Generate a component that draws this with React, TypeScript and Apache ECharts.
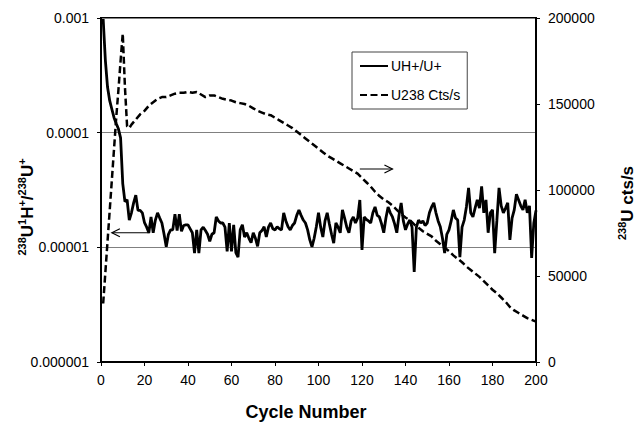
import React, { useEffect, useRef } from "react";
import * as echarts from "echarts";

// UH+/U+ ratio per cycle (cycles 1..200)
const uhRatio: number[] = [
  9.8e-4, 4.3e-4, 2.5e-4, 1.9e-4, 1.6e-4, 1.35e-4, 1.2e-4, 1.08e-4, 9.0e-5, 3.6e-5,
  2.5e-5, 2.6e-5, 1.73e-5, 2.0e-5, 2.44e-5, 2.85e-5, 2.1e-5, 2.1e-5, 2.0e-5, 1.64e-5,
  1.5e-5, 1.34e-5, 1.84e-5, 1.34e-5, 1.73e-5, 2.0e-5, 1.8e-5, 1.63e-5, 1.3e-5, 1.01e-5,
  1.3e-5, 1.42e-5, 1.42e-5, 1.95e-5, 1.4e-5, 1.95e-5, 1.38e-5, 1.55e-5, 1.57e-5, 1.57e-5,
  1.45e-5, 1.34e-5, 8.9e-6, 1.42e-5, 8.9e-6, 1.42e-5, 1.5e-5, 1.4e-5, 1.3e-5, 1.13e-5,
  1.3e-5, 1.34e-5, 1.84e-5, 1.7e-5, 1.63e-5, 1.63e-5, 1.5e-5, 9.2e-6, 1.63e-5, 9.2e-6,
  1.57e-5, 9.0e-6, 8.2e-6, 1.42e-5, 1.57e-5, 1.23e-5, 1.34e-5, 1.2e-5, 1.1e-5, 1.34e-5,
  1.2e-5, 1.02e-5, 1.34e-5, 1.4e-5, 1.51e-5, 1.23e-5, 1.5e-5, 1.63e-5, 1.45e-5, 1.42e-5,
  1.51e-5, 1.45e-5, 1.42e-5, 2.0e-5, 1.7e-5, 1.51e-5, 1.42e-5, 1.55e-5, 1.63e-5, 1.9e-5,
  2.12e-5, 1.9e-5, 1.73e-5, 1.63e-5, 1.42e-5, 1.16e-5, 1.01e-5, 1.2e-5, 1.51e-5, 2.0e-5,
  1.5e-5, 1.23e-5, 1.7e-5, 2.0e-5, 1.6e-5, 1.3e-5, 1.09e-5, 1.63e-5, 1.5e-5, 1.34e-5,
  2.12e-5, 1.8e-5, 1.5e-5, 1.34e-5, 1.7e-5, 1.84e-5, 1.63e-5, 1.8e-5, 2.59e-5, 9.5e-6,
  1.84e-5, 1.75e-5, 1.7e-5, 1.63e-5, 2.0e-5, 2.25e-5, 1.9e-5, 1.84e-5, 1.6e-5, 1.34e-5,
  1.8e-5, 2.25e-5, 2.0e-5, 1.84e-5, 1.6e-5, 1.34e-5, 1.9e-5, 2.44e-5, 1.7e-5, 1.42e-5,
  1.6e-5, 1.73e-5, 1.5e-5, 6.1e-6, 1.5e-5, 1.73e-5, 1.63e-5, 1.7e-5, 1.55e-5, 1.63e-5,
  2.0e-5, 2.25e-5, 2.44e-5, 2.0e-5, 1.7e-5, 1.51e-5, 1.2e-5, 8.9e-6, 1.3e-5, 1.42e-5,
  1.7e-5, 2.12e-5, 1.8e-5, 1.73e-5, 8.2e-6, 1.5e-5, 1.73e-5, 2.25e-5, 3.3e-5, 2.0e-5,
  1.84e-5, 2.2e-5, 2.59e-5, 2.2e-5, 3.4e-5, 2.0e-5, 2.59e-5, 1.34e-5, 2.0e-5, 2.12e-5,
  8.9e-6, 1.7e-5, 3.3e-5, 2.3e-5, 2.0e-5, 2.2e-5, 2.44e-5, 1.16e-5, 1.8e-5, 2.12e-5,
  2.9e-5, 2.59e-5, 2.3e-5, 2.12e-5, 2.6e-5, 2.0e-5, 2.3e-5, 8.1e-6, 1.63e-5, 2.1e-5,
];

// U238 counts/s: [cycle, cts/s]
const u238Cycles: number[] = [
  1, 2, 3, 4, 5, 6, 7, 8, 9, 10, 11, 12, 13, 14, 16, 18, 20, 22, 24, 26, 28, 30, 32, 34, 36, 38,
  40, 42, 44, 46, 48, 50, 52, 54, 56, 58, 60, 62, 64, 66, 68, 70, 72, 74, 76, 78, 80, 82, 84, 86,
  88, 90, 92, 94, 96, 98, 100, 102, 104, 106, 108, 110, 112, 114, 116, 118, 120, 122, 124, 126,
  128, 130, 132, 134, 136, 138, 140, 142, 144, 146, 148, 150, 152, 154, 156, 158, 160, 162, 164,
  166, 168, 170, 172, 174, 176, 178, 180, 182, 184, 186, 188, 190, 192, 194, 196, 198, 200,
];
const u238Counts: number[] = [
  34000, 52000, 70000, 88000, 106000, 124000, 142000, 158000, 175000, 191000, 160000, 137000,
  136000, 138000, 141000, 144000, 146000, 149000, 151000, 153000, 154000, 154000, 155000, 156000,
  156500, 156500, 157000, 156500, 157000, 155500, 154000, 155000, 155000, 154000, 153000, 152500,
  152000, 151000, 150500, 150000, 149000, 147500, 146000, 145000, 144000, 143500, 142000, 140500,
  139000, 137500, 136000, 134000, 132000, 130000, 128000, 126000, 124000, 122000, 120000, 118500,
  117000, 115500, 114000, 112500, 111000, 109500, 107000, 104500, 102000, 99000, 96500, 94500,
  93000, 91000, 88500, 86000, 84000, 82500, 80000, 78000, 76000, 74500, 73000, 70500, 68500,
  66500, 64500, 62000, 60000, 58000, 55500, 53500, 51500, 49500, 47000, 44500, 42000, 40000,
  37500, 35000, 32000, 30000, 28500, 27000, 25500, 24500, 23500,
];

const seriesNames = ["UH+/U+", "U238 Cts/s"];
const leftTickLabels: Record<string, string> = {
  "-6": "0.000001",
  "-5": "0.00001",
  "-4": "0.0001",
  "-3": "0.001",
};

// annotation arrows in data coordinates
const leftArrow = { from: [22.5, 1.34e-5], to: [5, 1.34e-5] };
const rightArrow = { from: [119, 112200], to: [134, 112200] };

const FONT = "'Liberation Sans', Arial, sans-serif";

export default function App() {
  const ref = useRef<HTMLDivElement>(null);
  useEffect(() => {
    document.body.style.margin = "0";
    const chart = echarts.init(ref.current!, null, { renderer: "svg" });
    const uhData = uhRatio.map((v, i) => [i + 1, v]);
    const ctsData = u238Cycles.map((c, i) => [c, u238Counts[i]]);
    chart.setOption({
      animation: false,
      textStyle: { fontFamily: FONT, color: "#000" },
      grid: {
        left: 101,
        right: 100,
        top: 18,
        bottom: 61,
        show: true,
        borderColor: "#000",
        borderWidth: 2,
        backgroundColor: "transparent",
      },
      legend: {
        data: seriesNames,
        orient: "vertical",
        left: 352,
        top: 52,
        itemWidth: 28,
        itemHeight: 14,
        itemGap: 15,
        padding: [7, 7, 7, 7],
        borderColor: "#444",
        borderWidth: 1,
        itemStyle: { opacity: 0 },
        textStyle: { fontSize: 14, color: "#000", fontFamily: FONT, padding: [0, 0, 0, -2] },
      },
      xAxis: {
        type: "value",
        min: 0,
        max: 200,
        interval: 20,
        axisLine: { show: true, onZero: false, lineStyle: { color: "#000", width: 2 } },
        axisTick: { show: true, length: 4, lineStyle: { color: "#000" } },
        axisLabel: { fontSize: 14, color: "#000", margin: 11, fontFamily: FONT },
        splitLine: { show: false },
      },
      yAxis: [
        {
          type: "log",
          logBase: 10,
          min: 1e-6,
          max: 1e-3,
          axisLine: { show: true, lineStyle: { color: "#000", width: 2 } },
          axisTick: { show: true, length: 4, lineStyle: { color: "#000" } },
          axisLabel: {
            fontSize: 14,
            color: "#000",
            margin: 12,
            fontFamily: FONT,
            formatter: (v: number) => leftTickLabels[String(Math.round(Math.log10(v)))] ?? "",
          },
          splitLine: { show: true, lineStyle: { color: "#808080", width: 1 } },
          minorTick: { show: false },
        },
        {
          type: "value",
          position: "right",
          min: 0,
          max: 200000,
          interval: 50000,
          axisLine: { show: true, lineStyle: { color: "#000", width: 2 } },
          axisTick: { show: true, length: 4, lineStyle: { color: "#000" } },
          axisLabel: {
            fontSize: 14,
            color: "#000",
            margin: 12,
            fontFamily: FONT,
            formatter: (v: number) => String(v),
          },
          splitLine: { show: false },
        },
      ],
      series: [
        {
          name: seriesNames[0],
          type: "line",
          yAxisIndex: 0,
          data: uhData,
          symbol: "none",
          showSymbol: false,
          lineStyle: { color: "#000", width: 2.8 },
          itemStyle: { color: "#000" },
          z: 3,
        },
        {
          name: seriesNames[1],
          type: "line",
          yAxisIndex: 1,
          data: ctsData,
          symbol: "none",
          showSymbol: false,
          lineStyle: { color: "#000", width: 2.5, type: [7, 3.5] },
          itemStyle: { color: "#000" },
          z: 2,
        },
      ],
    });

    const arrowEls = (a: { from: number[]; to: number[] }, yAxisIndex: number) => {
      const p1 = chart.convertToPixel({ xAxisIndex: 0, yAxisIndex }, a.from) as number[];
      const p2 = chart.convertToPixel({ xAxisIndex: 0, yAxisIndex }, a.to) as number[];
      const dir = p2[0] < p1[0] ? 1 : -1;
      return [
        {
          type: "line",
          shape: { x1: p1[0], y1: p1[1], x2: p2[0], y2: p2[1] },
          style: { stroke: "#000", lineWidth: 1.2 },
          z: 10,
        },
        {
          type: "polyline",
          shape: {
            points: [
              [p2[0] + dir * 8, p2[1] - 4],
              [p2[0], p2[1]],
              [p2[0] + dir * 8, p2[1] + 4],
            ],
          },
          style: { stroke: "#000", lineWidth: 1.2, fill: null },
          z: 10,
        },
      ];
    };

    const rich = {
      b: { fontSize: 17, fontWeight: "bold", fontFamily: FONT, lineHeight: 20, verticalAlign: "bottom" },
      s: { fontSize: 11, fontWeight: "bold", fontFamily: FONT, lineHeight: 12, verticalAlign: "top" },
    };

    chart.setOption({
      graphic: [
        ...arrowEls(leftArrow, 0),
        ...arrowEls(rightArrow, 1),
        {
          type: "text",
          x: 26,
          y: 207,
          rotation: Math.PI / 2,
          style: {
            text: "{s|238}{b|U}{s|1}{b|H}{s|+}{b|/}{s|238}{b|U}{s|+}",
            align: "center",
            verticalAlign: "middle",
            fill: "#000",
            rich,
          },
        },
        {
          type: "text",
          x: 626,
          y: 203,
          rotation: Math.PI / 2,
          style: {
            text: "{s|238}{b|U cts/s}",
            align: "center",
            verticalAlign: "middle",
            fill: "#000",
            rich,
          },
        },
        {
          type: "text",
          x: 306,
          y: 412,
          style: {
            text: "Cycle Number",
            align: "center",
            verticalAlign: "middle",
            fill: "#000",
            font: `bold 18px ${FONT}`,
          },
        },
      ],
    });
    return () => chart.dispose();
  }, []);
  return <div ref={ref} style={{ width: 636, height: 423 }} />;
}
